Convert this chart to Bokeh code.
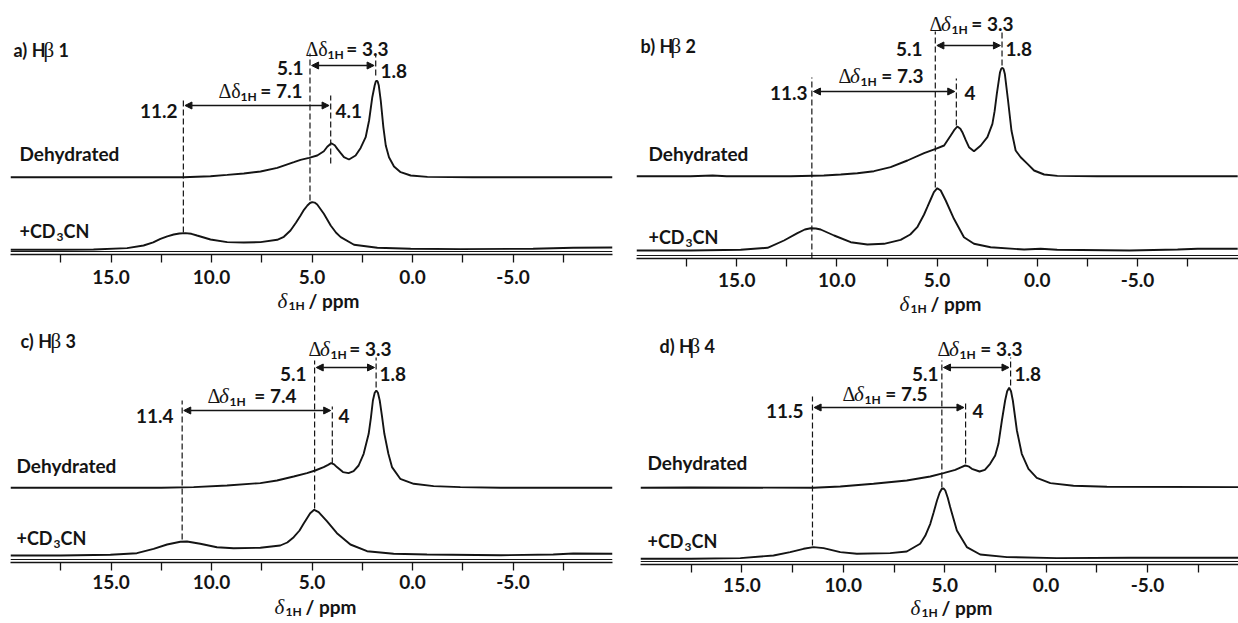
from bokeh.plotting import figure
from bokeh.layouts import column, row
from bokeh.models import (Range1d, FixedTicker, PrintfTickFormatter, Label, Arrow,
                          NormalHead, Span)
from bokeh.embed import file_html
from bokeh.resources import INLINE

# ---------------- data ----------------
tick_major = [15, 10, 5, 0, -5]
tick_minor = [17.5, 12.5, 7.5, 2.5, -2.5, -7.5]

# panel a  (H-beta 1)
a_dry_ppm = [20, 17.5, 11.4, 10.05, 9.22, 8.39, 7.56, 6.73, 5.9, 5.57, 5.15, 4.74, 4.41, 4.24, 4.04, 3.87,
             3.74, 3.57, 3.41, 3.16, 2.83, 2.58, 2.33, 2.16, 2.0, 1.88, 1.83, 1.78, 1.73, 1.68, 1.58, 1.45,
             1.33, 1.17, 0.92, 0.59, 0.09, -0.74, -3.0, -9.95]
a_dry_int = [0, 0, 0, 1.0, 2.3, 3.7, 5.7, 9.3, 15, 17.3, 19.3, 21.7, 26, 30.5, 34, 32,
             28.3, 24, 20, 17.7, 21.7, 29.3, 40, 56.7, 80, 92, 95.5, 96.7, 95.5, 92, 76.7, 50,
             31.7, 20, 10.7, 5, 1.7, 0.3, 0, 0]
a_cd_ppm = [20, 17.5, 15.87, 14.2, 13.38, 12.9, 12.54, 12.2, 11.88, 11.6, 11.3, 11.0, 10.72, 10.05, 9.22,
            8.39, 7.56, 6.73, 6.4, 6.07, 5.8, 5.57, 5.4, 5.23, 5.1, 4.99, 4.87, 4.74, 4.41, 4.07, 3.8,
            3.57, 2.91, 1.75, 0.09, -2.4, -6, -8, -9.95]
a_cd_int = [0, 0, 0.3, 1.7, 4.3, 7.5, 11, 13.5, 15.3, 16.3, 16.7, 16, 14.3, 10.3, 7.7,
            7.3, 7.7, 10, 13, 19.3, 27, 34.3, 40, 44.3, 46.8, 47.7, 47.2, 45.3, 36, 24.3, 17,
            12.7, 5, 2, 1, 0.7, 1, 2, 2.3]
a_marks = [11.4, 5.1, 4.07, 1.83]
a_mark_labels = ["11.2", "5.1", "4.1", "1.8"]
a_deltas = ["7.1", "3.3"]

# panel b  (H-beta 2)
b_dry_ppm = [20, 17.3, 16.2, 15.5, 12.3, 10.65, 9.81, 8.98, 8.15, 7.32, 6.48, 5.65, 5.07, 4.65, 4.32,
             4.15, 3.99, 3.84, 3.74, 3.57, 3.41, 3.16, 2.82, 2.49, 2.24, 2.13, 2.02, 1.86, 1.80, 1.74,
             1.68, 1.62, 1.46, 1.29, 1.08, 0.83, 0.49, 0.16, -0.34, -1.0, -3.0, -10.0]
b_dry_int = [0, 0, 0.7, 0, 0, 0.7, 1.7, 3, 5, 9, 15.7, 23, 27.3, 30.7, 40.7,
             46, 49.7, 47.5, 44, 36, 29, 25, 30.7, 39, 52.3, 65, 82.3, 104, 107.5, 108.3,
             107, 102.3, 75.7, 45.7, 25.7, 19, 12.3, 5.7, 1.7, 0.3, 0, 0]
b_cd_ppm = [20, 17.3, 14.8, 13.46, 12.64, 11.97, 11.6, 11.31, 11.05, 10.81, 10.14, 9.31, 8.48, 7.65,
            6.82, 6.34, 5.99, 5.65, 5.49, 5.3, 5.16, 4.99, 4.82, 4.57, 4.16, 3.66, 3.16, 2.33, 0.66,
            -0.17, -0.99, -4.6, -7, -8, -10.0]
b_cd_int = [0, 0, 0.7, 2.7, 10, 17.3, 21, 22.3, 22, 21, 15, 8.3, 6, 6.7,
            10.7, 16, 23.3, 36, 43.3, 52, 58.3, 62.3, 60, 50, 31.7, 13.3, 6.7, 3.3, 1,
            1.7, 0.7, 0, 1, 1.7, 1.7]
b_marks = [11.25, 5.09, 4.04, 1.76]
b_mark_labels = ["11.3", "5.1", "4", "1.8"]
b_deltas = ["7.3", "3.3"]

# panel c  (H-beta 3)
c_dry_ppm = [20, 17.5, 12.5, 10.89, 9.23, 7.57, 6.74, 5.91, 5.25, 4.84, 4.42, 4.2, 4.05, 3.9, 3.76,
             3.46, 3.18, 2.93, 2.68, 2.43, 2.18, 2.07, 1.97, 1.88, 1.80, 1.72, 1.63, 1.52, 1.40, 1.2,
             1.02, 0.61, -0.06, -1.05, -2.38, -4.4, -9.95]
c_dry_int = [0, 0, 0, 0.7, 2.3, 4.7, 7.3, 11.3, 14.7, 17.3, 20.7, 23, 24.7, 23.5, 20.7,
             15.7, 14.7, 16.7, 22.3, 34, 54, 70, 87.3, 95, 97.3, 95, 87.3, 72, 54, 34,
             20.7, 9, 4, 1.7, 0.7, 0, 0]
c_cd_ppm = [20, 17.5, 15.03, 13.71, 12.88, 12.21, 11.55, 11.22, 10.56, 9.73, 8.9, 7.57, 6.58, 6.23,
            5.91, 5.62, 5.42, 5.09, 4.89, 4.67, 4.26, 3.76, 3.09, 2.26, 0.94, -0.72, -4.4, -7, -8, -9.95]
c_cd_int = [0, 0, 0.7, 2.3, 6.7, 11, 13.7, 14, 11.7, 8.3, 7.3, 7.7, 10, 13,
            18.3, 25, 31.7, 42.3, 45.7, 43.3, 34.3, 22.3, 11, 4.3, 1.7, 1, 0.3, 1, 2, 1.7]
c_marks = [11.46, 4.87, 3.99, 1.81]
c_mark_labels = ["11.4", "5.1", "4", "1.8"]
c_deltas = ["7.4", "3.3"]

# panel d  (H-beta 4)
d_dry_ppm = [20, 17.5, 11.47, 10.15, 8.51, 6.87, 5.71, 5.06, 4.48, 4.2, 3.99, 3.83, 3.66, 3.28, 3.02,
             2.76, 2.51, 2.35, 2.18, 2.02, 1.92, 1.82, 1.73, 1.64, 1.44, 1.20, 0.87, 0.46, -0.21, -1.35,
             -3.0, -9.5]
d_dry_int = [0, 0.3, 0, 1.3, 4, 7.3, 11.3, 14.7, 18, 20.5, 22.3, 21.5, 19, 16.3, 18,
             24, 32.3, 44, 67.3, 87.3, 96.5, 100, 96.5, 87.3, 57.3, 34, 19, 10, 4.7, 2,
             1, 0.7]
d_cd_ppm = [20, 17.5, 15.08, 13.44, 12.62, 11.96, 11.47, 10.97, 10.15, 9.33, 7.69, 6.87, 6.21, 5.96,
            5.71, 5.55, 5.38, 5.25, 5.14, 5.05, 4.97, 4.85, 4.73, 4.40, 3.91, 3.25, 1.93, -0.53, -4.15, -9.5]
d_cd_int = [0, 0, 0.7, 3.3, 6.7, 10, 11.7, 10.7, 6.7, 5, 5.7, 7.3, 15, 23,
            35, 46, 58.3, 66, 70, 70.3, 68.3, 61, 51.7, 28.3, 11.7, 4.3, 1.7, 0.7, 1, 1]
d_marks = [11.52, 5.14, 3.97, 1.75]
d_mark_labels = ["11.5", "5.1", "4", "1.8"]
d_deltas = ["7.5", "3.3"]

# ---------------- style / layout ----------------
SANS = "Lato"
SERIF = "Liberation Serif"
INK = "#141414"

# page-pixel layout of each panel
#   left = frame left, fb = frame bottom, sc = px per ppm, top = figure top,
#   mh = height of main figure, th = height of axis-title strip below it
LA = dict(left=10, sc=20.1, top=0, fb=254, fw=602, bl=10, br=8, mh=288, th=30, stand=7,
          off=(77.3, 4.7), italic=False,
          tag=(13, 49), dry=(19, 153), cd=(19, 230),
          d_big=(218, 302, 90), d_small=(305, 388, 48),
          n51=(303, 67), n18=(380, 70), n11=(177, 110), n4=(335, 110),
          arrows=(65, 105), dash=[(98, 232), (53, 200), (95, 163), (53, 75)],
          title=(277, 300))
LB = dict(left=636, sc=20.04, top=0, fb=258, fw=602, bl=16, br=0, mh=290, th=28, stand=6,
          off=(82.3, 8.0), italic=True,
          tag=(640, 45), dry=(648, 153), cd=(648, 236),
          d_big=(838, 923, 75), d_small=(929, 1013, 23),
          n51=(922, 48), n18=(1005, 48), n11=(807, 92), n4=(964, 92),
          arrows=(45, 91), dash=[(77, 258), (31, 187), (78, 125), (31, 65)],
          title=(899, 303))
LC = dict(left=10, sc=20.1, top=318, fb=562, fw=602, bl=10, br=8, mh=278, th=27, stand=4,
          off=(74.7, 7.0), italic=True,
          tag=(20, 340), dry=(16, 465), cd=(16, 537),
          d_big=(207, 296, 395), d_small=(308, 391, 348),
          n51=(306, 373), n18=(379, 373), n11=(173, 415), n4=(338, 415),
          arrows=(367, 410), dash=[(400, 539), (360, 508), (406, 463), (357, 387)],
          title=(274, 606))
LD = dict(left=640, sc=20.28, top=318, fb=564, fw=598, bl=20, br=0, mh=278, th=27, stand=5,
          off=(76.7, 5.7), italic=True,
          tag=(659, 345), dry=(647, 462), cd=(647, 540),
          d_big=(842, 927, 393), d_small=(937, 1022, 348),
          n51=(938, 373), n18=(1014, 373), n11=(803, 410), n4=(972, 410),
          arrows=(367, 407), dash=[(396, 545), (360, 487), (400, 463), (357, 385)],
          title=(910, 607))


def X(L, px):
    return 20 - (px - L["left"]) / L["sc"]


def txt(p, L, base, px, py, text, size=19, font=SANS, style="bold", align="left"):
    p.add_layout(Label(x=X(L, px), y=base - py, text=text, text_font=font,
                       text_font_style=style, text_font_size=f"{size}px",
                       text_align=align, text_baseline="middle", text_color=INK))


def delta_text(p, L, left, right, py, value):
    fb = L["fb"]
    if L["italic"]:
        txt(p, L, fb, left, py, "Δ", size=20, font=SERIF, style="normal")
        txt(p, L, fb, left + 11.5, py, "δ", size=21, font=SERIF, style="italic")
    else:
        txt(p, L, fb, left, py, "Δδ", size=20, font=SERIF, style="normal")
    txt(p, L, fb, left + 22, py + 6, "1H", size=12)
    txt(p, L, fb, right, py, "= " + value, align="right")


def panel(L, tag, dry_ppm, dry_int, cd_ppm, cd_int, marks, mlabels, deltas):
    fb = L["fb"]
    fh = fb - L["top"]
    xr = Range1d(20, 20 - L["fw"] / L["sc"])
    p = figure(frame_width=L["fw"], frame_height=fh, x_range=xr,
               y_range=Range1d(0, fh), output_backend="svg", toolbar_location=None,
               y_axis_location=None, min_border_left=L["bl"], min_border_right=L["br"],
               min_border_top=0, min_border_bottom=L["mh"] - fh)
    p.outline_line_color = None
    p.grid.visible = False
    p.background_fill_color = "white"
    p.border_fill_color = "white"
    ax = p.xaxis[0]
    ax.ticker = FixedTicker(ticks=tick_major, minor_ticks=tick_minor)
    ax.formatter = PrintfTickFormatter(format="%.1f")
    ax.axis_line_color = INK
    ax.axis_line_width = 1.3
    ax.major_tick_line_color = INK
    ax.minor_tick_line_color = INK
    ax.major_tick_line_width = 1.3
    ax.minor_tick_line_width = 1.3
    ax.major_tick_out = 8
    ax.major_tick_in = 0
    ax.minor_tick_out = 8
    ax.minor_tick_in = 0
    ax.major_label_standoff = L["stand"]
    ax.major_label_text_font = SANS
    ax.major_label_text_font_style = "bold"
    ax.major_label_text_font_size = "19px"
    ax.major_label_text_color = INK
    p.add_layout(Span(location=3, dimension="width", line_color=INK, line_width=1.2))

    off_dry, off_cd = L["off"]
    p.line(dry_ppm, [v + off_dry for v in dry_int], line_color=INK, line_width=1.9)
    p.line(cd_ppm, [v + off_cd for v in cd_int], line_color=INK, line_width=1.9)

    # dashed marker lines
    tops = [fb - t for t, b in L["dash"]]
    bots = [fb - b for t, b in L["dash"]]
    p.segment(x0=marks, y0=bots, x1=marks, y1=tops, line_color=INK, line_width=1.2,
              line_dash="6 3")

    # double-headed arrows
    ya_up, ya_lo = L["arrows"]
    for (i, j, ya) in [(1, 3, ya_up), (0, 2, ya_lo)]:
        p.add_layout(Arrow(x_start=marks[i] - 0.08, y_start=fb - ya,
                           x_end=marks[j] + 0.08, y_end=fb - ya,
                           start=NormalHead(size=7, fill_color=INK, line_color=INK, line_width=1),
                           end=NormalHead(size=7, fill_color=INK, line_color=INK, line_width=1),
                           line_color=INK, line_width=1.3))

    # panel tag  e.g. "a) Hβ 1"
    tx, ty = L["tag"]
    letter, num = tag
    txt(p, L, fb, tx, ty, letter + ") H", size=18)
    txt(p, L, fb, tx + 30, ty, "β", size=21, font=SERIF, style="normal")
    txt(p, L, fb, tx + 45, ty, num, size=18)

    # sample labels
    txt(p, L, fb, L["dry"][0], L["dry"][1], "Dehydrated")
    cx, cy = L["cd"]
    txt(p, L, fb, cx, cy, "+CD", size=18)
    txt(p, L, fb, cx + 37, cy + 6, "3", size=12)
    txt(p, L, fb, cx + 44, cy, "CN", size=18)

    # delta annotations
    l, r, y = L["d_big"]
    delta_text(p, L, l, r, y, deltas[0])
    l, r, y = L["d_small"]
    delta_text(p, L, l, r, y, deltas[1])

    # peak labels
    txt(p, L, fb, L["n11"][0], L["n11"][1], mlabels[0], align="right")
    txt(p, L, fb, L["n51"][0], L["n51"][1], mlabels[1], align="right")
    txt(p, L, fb, L["n4"][0], L["n4"][1], mlabels[2])
    txt(p, L, fb, L["n18"][0], L["n18"][1], mlabels[3])

    # axis title strip  (δ1H / ppm)
    th = L["th"]
    t = figure(frame_width=L["fw"], frame_height=th, x_range=xr, y_range=Range1d(0, th),
               output_backend="svg", toolbar_location=None, x_axis_location=None,
               y_axis_location=None, min_border_left=L["bl"], min_border_right=L["br"],
               min_border_top=0, min_border_bottom=0)
    t.outline_line_color = None
    t.grid.visible = False
    t.background_fill_color = "white"
    t.border_fill_color = "white"
    base = L["top"] + L["mh"] + th
    tl, tyy = L["title"]
    txt(t, L, base, tl, tyy, "δ", size=21, font=SERIF, style="italic")
    txt(t, L, base, tl + 11, tyy + 5, "1H", size=12)
    txt(t, L, base, tl + 31, tyy, "/ ppm")
    return column(p, t, spacing=0)


pa = panel(LA, ("a", "1"), a_dry_ppm, a_dry_int, a_cd_ppm, a_cd_int, a_marks, a_mark_labels, a_deltas)
pb = panel(LB, ("b", "2"), b_dry_ppm, b_dry_int, b_cd_ppm, b_cd_int, b_marks, b_mark_labels, b_deltas)
pc = panel(LC, ("c", "3"), c_dry_ppm, c_dry_int, c_cd_ppm, c_cd_int, c_marks, c_mark_labels, c_deltas)
pd = panel(LD, ("d", "4"), d_dry_ppm, d_dry_int, d_cd_ppm, d_cd_int, d_marks, d_mark_labels, d_deltas)

layout = column(row(pa, pb, spacing=0), row(pc, pd, spacing=0), spacing=0)
open("out.html", "w").write(file_html(layout, INLINE))
